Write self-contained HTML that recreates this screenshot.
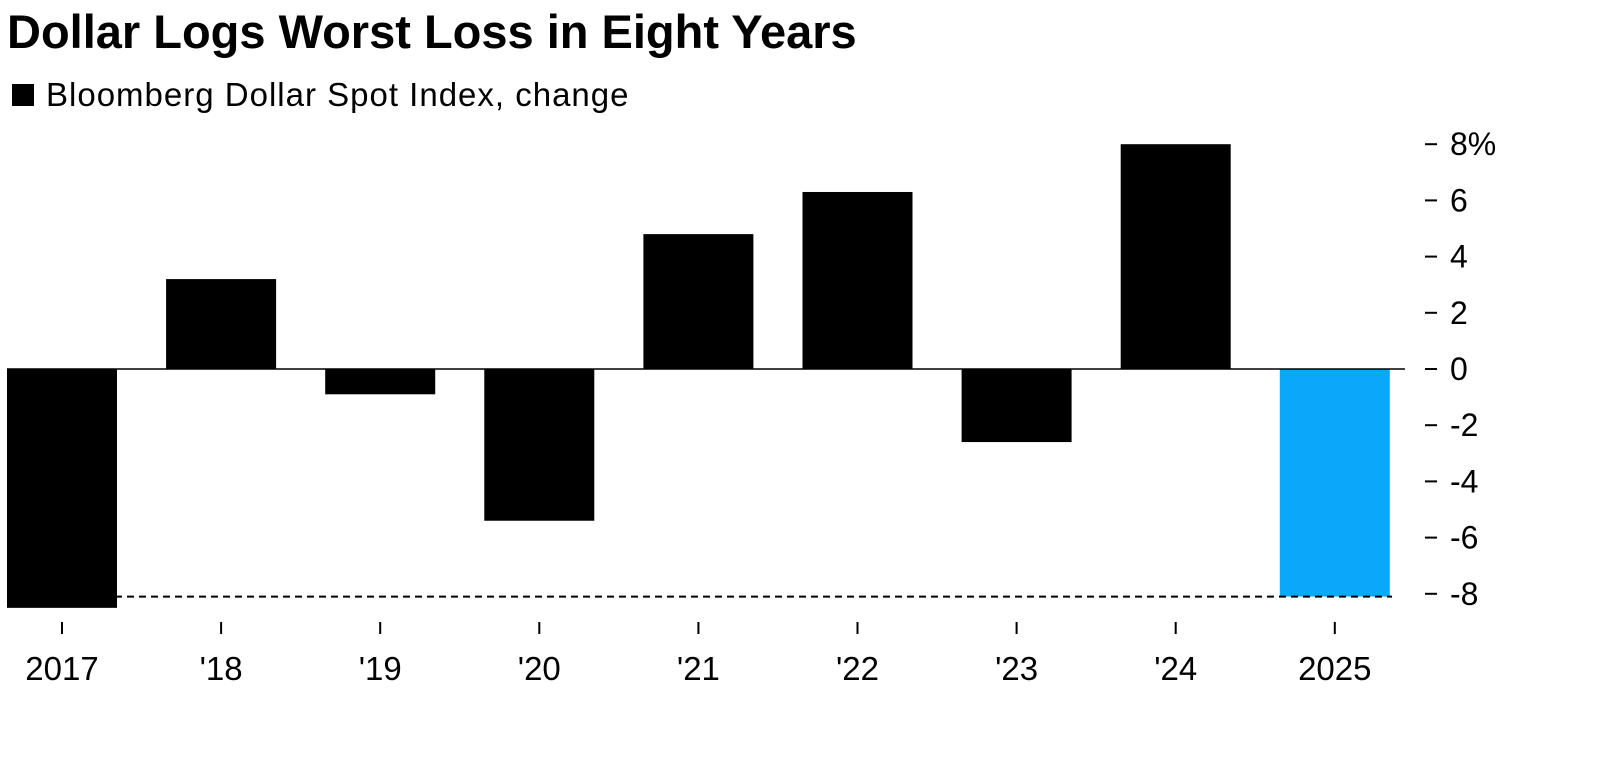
<!DOCTYPE html>
<html><head><meta charset="utf-8">
<style>
body{margin:0;background:#fff;font-family:"Liberation Sans",Arial,sans-serif;}
svg{display:block}
</style></head>
<body>
<svg width="1600" height="757" viewBox="0 0 1600 757">
<text x="7" y="48" font-size="47" font-weight="bold" fill="#000">Dollar Logs Worst Loss in Eight Years</text>
<rect x="12" y="84" width="22" height="22" fill="#000"/>
<text x="46" y="106" font-size="33" letter-spacing="1" fill="#000">Bloomberg Dollar Spot Index, change</text>
<g id="plot"></g>
</svg>
<script>
const categories = ["2017","'18","'19","'20","'21","'22","'23","'24","2025"];
const values = [-8.5, 3.2, -0.9, -5.4, 4.8, 6.3, -2.6, 8.0, -8.1];
const yTicks = [8,6,4,2,0,-2,-4,-6,-8];
const yTickLabels = ["8%","6","4","2","0","-2","-4","-6","-8"];
const refValue = -8.1;

const NS="http://www.w3.org/2000/svg";
const g=document.getElementById('plot');
const y=v=>369-v*28.1;
const x0=62, step=159.1, bw=110;
const x=i=>x0+i*step;
function mk(tag,attrs){const e=document.createElementNS(NS,tag);for(const k in attrs)e.setAttribute(k,attrs[k]);g.appendChild(e);return e;}

values.forEach((v,i)=>{
  const r=mk('rect',{x:x(i)-bw/2,y:Math.min(y(v),y(0)),width:bw,height:Math.abs(y(v)-y(0)),fill:i===values.length-1?'#0aa8f8':'#000'});
  
  
  const t=mk('line',{x1:x(i),x2:x(i),y1:622,y2:634,stroke:'#000','stroke-width':2});
  
  
  const l=mk('text',{x:x(i),y:680,'font-size':33,'text-anchor':'middle',fill:'#000'});
  l.textContent=categories[i];
  
  
});
const z=mk('line',{x1:7,x2:1405,y1:y(0),y2:y(0),stroke:'#000','stroke-width':1.5});


const d=mk('line',{x1:7,x2:1392,y1:y(refValue),y2:y(refValue),stroke:'#000','stroke-width':2,'stroke-dasharray':'7,5'});


yTicks.forEach((v,i)=>{
  const t=mk('line',{x1:1425,x2:1437,y1:y(v),y2:y(v),stroke:'#000','stroke-width':2});
  
  
  const l=mk('text',{x:1450,y:y(v)+11,'font-size':32,fill:'#000'});
  l.textContent=yTickLabels[i];
  
  
});
</script>
</body></html>
